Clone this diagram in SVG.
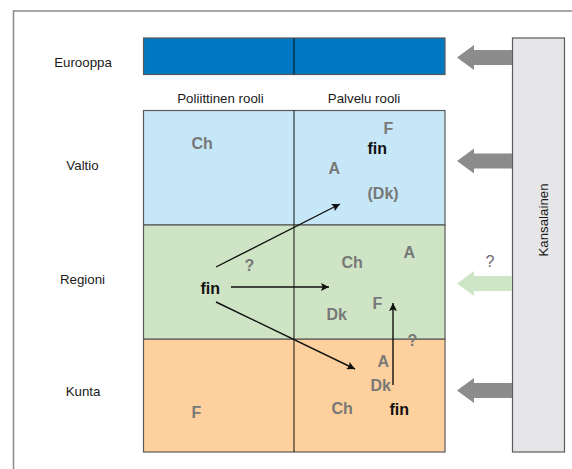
<svg xmlns="http://www.w3.org/2000/svg" width="572" height="469" viewBox="0 0 572 469">
  <style>
    .lbl { font-family: "Liberation Sans", Arial, sans-serif; font-size: 13.3px; fill: #1a1a1a; }
    .tag { font-family: "Liberation Sans", Arial, sans-serif; font-size: 16px; font-weight: bold; fill: #787878; }
    .fin { font-family: "Liberation Sans", Arial, sans-serif; font-size: 16px; font-weight: bold; fill: #111111; }
    .band { stroke: #5a5a5a; stroke-width: 1.2; }
    .div { stroke: #111111; stroke-width: 1; }
    .flow { stroke: #111111; stroke-width: 1.4; fill: none; marker-end: url(#head); }
    .block { fill: #8c8c8c; }
  </style>
  <defs>
    <marker id="head" viewBox="0 0 10 10" refX="10" refY="5" markerUnits="userSpaceOnUse" markerWidth="10" markerHeight="8" orient="auto">
      <path d="M0,0 L10,5 L0,10 L2,5 z" fill="#111111"/>
    </marker>
    <!-- wide block arrow pointing left, tip at x=457, centred on y=0 -->
    <path id="blockArrow" d="M457,0 L474,-12.5 L474,-7.5 L512,-7.5 L512,7.5 L474,7.5 L474,12.5 z"/>
  </defs>

  <rect x="0" y="0" width="572" height="469" fill="#ffffff"/>
  <!-- outer frame -->
  <path d="M13.5,469 V11 H572" fill="none" stroke="#8a8a8a" stroke-width="1.5"/>

  <!-- row labels -->
  <g id="row-labels">
    <text class="lbl" x="83" y="67" text-anchor="middle">Eurooppa</text>
    <text class="lbl" x="82.5" y="170" text-anchor="middle">Valtio</text>
    <text class="lbl" x="82.5" y="283.5" text-anchor="middle">Regioni</text>
    <text class="lbl" x="83" y="396" text-anchor="middle">Kunta</text>
    <text class="lbl" x="220.5" y="102.5" text-anchor="middle">Poliittinen rooli</text>
    <text class="lbl" x="364" y="102.5" text-anchor="middle">Palvelu rooli</text>
  </g>

  <!-- Europe level -->
  <g id="eurooppa">
    <rect x="143.5" y="38" width="301.5" height="36.5" fill="#0079c2" class="band"/>
    <line x1="294" y1="38" x2="294" y2="74.5" class="div"/>
  </g>

  <!-- State level -->
  <g id="valtio">
    <rect x="143.5" y="110.5" width="301.5" height="114.5" fill="#c6e7f8" class="band"/>
    <text class="tag" x="191.5" y="148.5">Ch</text>
    <text class="tag" x="383.5" y="134">F</text>
    <text class="fin" x="367.5" y="153.5">fin</text>
    <text class="tag" x="328.5" y="173.5">A</text>
    <text class="tag" x="367.5" y="199">(Dk)</text>
  </g>

  <!-- Municipal level (drawn before the regional one so its band sits underneath) -->
  <g id="kunta">
    <rect x="143.5" y="339" width="301.5" height="113" fill="#fdd09d" class="band"/>
    <text class="tag" x="191.5" y="418">F</text>
    <text class="tag" x="377.5" y="366.5">A</text>
    <text class="tag" x="370.5" y="390.5">Dk</text>
    <text class="tag" x="331.5" y="414">Ch</text>
    <text class="fin" x="389.5" y="414.5">fin</text>
  </g>

  <!-- Regional level -->
  <g id="regioni">
    <rect x="143.5" y="225" width="301.5" height="114" fill="#cfe4c4" class="band"/>
    <text class="tag" x="244.5" y="270.5">?</text>
    <text class="fin" x="200.5" y="293.5">fin</text>
    <text class="tag" x="341.5" y="267.5">Ch</text>
    <text class="tag" x="403.5" y="257.5">A</text>
    <text class="tag" x="372.5" y="308.5">F</text>
    <text class="tag" x="326.5" y="319.5">Dk</text>
    <text class="tag" x="407.5" y="345.5">?</text>
  </g>

  <!-- column divider through the three levels -->
  <line x1="294" y1="110.5" x2="294" y2="452" class="div"/>

  <!-- citizen column -->
  <g id="kansalainen">
    <rect x="512.5" y="38" width="52" height="414" fill="#e6e6e8" stroke="#5a5a5a" stroke-width="1.2"/>
    <text class="lbl" x="0" y="0" font-size="15" text-anchor="middle" transform="translate(548 220) rotate(-90)">Kansalainen</text>
  </g>

  <!-- connectors -->
  <g id="connectors">
    <line class="flow" x1="216" y1="267" x2="340" y2="204"/>
    <line class="flow" x1="231" y1="287" x2="329" y2="287"/>
    <line class="flow" x1="216" y1="302" x2="355" y2="369"/>
    <line class="flow" x1="393" y1="385" x2="393" y2="303"/>

    <use href="#blockArrow" class="block" transform="translate(0 57.5)"/>
    <use href="#blockArrow" class="block" transform="translate(0 161)"/>
    <use href="#blockArrow" fill="#cfe6c6" transform="translate(0 283.5)"/>
    <use href="#blockArrow" class="block" transform="translate(0 390.5)"/>
    <text x="490" y="266.5" text-anchor="middle" font-family="Liberation Sans, Arial, sans-serif" font-size="16" fill="#6a6a6a">?</text>
  </g>
</svg>
